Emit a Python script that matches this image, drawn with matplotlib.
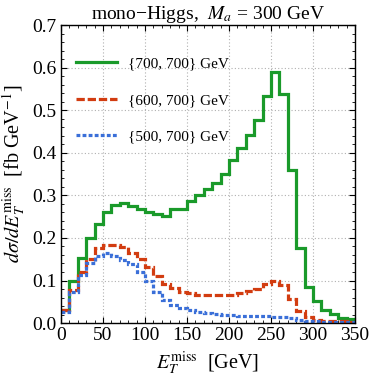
import numpy as np
import matplotlib
matplotlib.use("Agg")
import matplotlib.pyplot as plt
from matplotlib.ticker import MultipleLocator

# data : 10 GeV bins from 0 to 350 GeV
bin_edges = np.arange(0, 351, 10)

# {700, 700} GeV
green_vals = [0.031, 0.098, 0.154, 0.201, 0.232, 0.260, 0.277, 0.281, 0.276, 0.268,
              0.260, 0.256, 0.252, 0.268, 0.268, 0.286, 0.300, 0.314, 0.330, 0.351,
              0.382, 0.412, 0.443, 0.477, 0.534, 0.590, 0.538, 0.359, 0.176, 0.085,
              0.051, 0.030, 0.021, 0.013, 0.009]
# {600, 700} GeV
red_vals = [0.030, 0.078, 0.120, 0.150, 0.177, 0.183, 0.183, 0.178, 0.165, 0.151,
            0.131, 0.110, 0.092, 0.082, 0.073, 0.070, 0.067, 0.066, 0.066, 0.066,
            0.067, 0.070, 0.075, 0.080, 0.092, 0.098, 0.090, 0.057, 0.029, 0.014,
            0.008, 0.006, 0.005, 0.004, 0.003]
# {500, 700} GeV
blue_vals = [0.027, 0.074, 0.114, 0.142, 0.158, 0.165, 0.158, 0.149, 0.139, 0.120,
             0.100, 0.073, 0.055, 0.043, 0.036, 0.031, 0.027, 0.024, 0.021, 0.019,
             0.018, 0.017, 0.016, 0.016, 0.016, 0.015, 0.014, 0.011, 0.008, 0.006,
             0.004, 0.003, 0.002, 0.002, 0.002]

labels = ['{700, 700} GeV', '{600, 700} GeV', '{500, 700} GeV']

plt.rcParams['font.family'] = ['Liberation Serif', 'DejaVu Serif']
plt.rcParams['mathtext.fontset'] = 'stix'

fig = plt.figure(figsize=(3.71, 3.81), dpi=100)
ax = fig.add_axes([0.1644, 0.152, 0.7926, 0.782])

ax.stairs(green_vals, bin_edges, baseline=None, color='#1a9a2a', lw=2.3,
          label=labels[0])
ax.stairs(red_vals, bin_edges, baseline=None, color='#d23c10', lw=2.3,
          linestyle=(0, (2.6, 0.9)), label=labels[1])
ax.stairs(blue_vals, bin_edges, baseline=None, color='#3a6fd8', lw=2.3,
          linestyle=(0, (1.2, 0.7)), label=labels[2])

ax.set_xlim(0, 350)
ax.set_ylim(0, 0.7)
ax.xaxis.set_major_locator(MultipleLocator(50))
ax.xaxis.set_minor_locator(MultipleLocator(10))
ax.yaxis.set_major_locator(MultipleLocator(0.1))
ax.yaxis.set_minor_locator(MultipleLocator(0.02))
ax.yaxis.set_major_formatter(matplotlib.ticker.FormatStrFormatter('%.1f'))

ax.tick_params(which='both', direction='in', top=True, right=True,
               labelsize=14, pad=3)
ax.tick_params(which='major', length=4, width=0.8)
ax.tick_params(which='minor', length=2, width=0.6)
for s in ax.spines.values():
    s.set_linewidth(1.0)

ax.grid(True, which='major', linestyle=(0, (1, 2)), color='#b0b0b0', lw=0.8)
ax.set_axisbelow(True)

ax.set_title('mono\u2212Higgs,  $M_a$ = 300 GeV', fontsize=14, pad=4)
ax.set_xlabel('$E_T^{\\rm miss}$  [GeV]', fontsize=14.5, labelpad=4)
ax.set_ylabel('$d\\sigma/dE_T^{\\rm miss}$  [fb GeV$^{-1}$]', fontsize=14.5, labelpad=3)

ax.legend(loc='upper left', frameon=False, fontsize=11, handlelength=2.7,
          handletextpad=0.7, labelspacing=1.5, borderaxespad=0.0,
          bbox_to_anchor=(0.03, 0.915))

fig.savefig('out.png', dpi=100)
